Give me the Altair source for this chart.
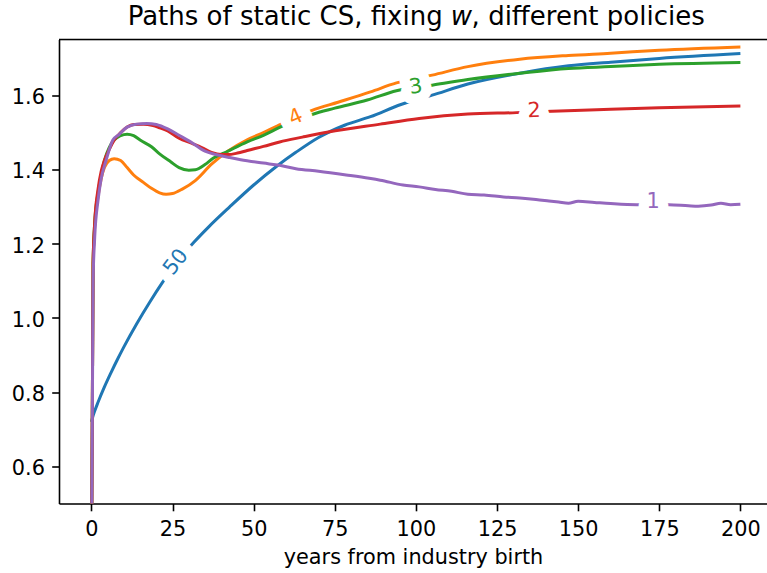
import altair as alt
import pandas as pd

FONT = "DejaVu Sans"

# ---- data ----
x_50 = [0, 0.5, 1, 2, 4, 6, 8, 10, 14, 18, 22, 25, 28, 31.5, 36, 42.6, 50, 57, 63, 70, 78, 86, 95.4, 105, 116, 132, 147, 160, 175, 200]
y_50 = [0.720, 0.736, 0.749, 0.772, 0.814, 0.852, 0.888, 0.922, 0.985, 1.043, 1.097, 1.135, 1.168, 1.203, 1.244, 1.299, 1.358, 1.408, 1.446, 1.486, 1.519, 1.542, 1.575, 1.600, 1.630, 1.659, 1.679, 1.689, 1.699, 1.712]

x_4 = [0, 0.5, 1, 2, 3, 4, 5.5, 7, 9, 11, 13, 16, 18.5, 21, 23, 25, 28, 32, 37, 42, 48, 53, 58.5, 62, 68, 76, 86, 94, 105, 116, 132, 147, 160, 175, 200]
y_4 = [0.30, 1.146, 1.246, 1.325, 1.375, 1.405, 1.424, 1.429, 1.424, 1.405, 1.385, 1.365, 1.349, 1.337, 1.333, 1.335, 1.347, 1.370, 1.414, 1.449, 1.480, 1.499, 1.522, 1.534, 1.559, 1.581, 1.609, 1.633, 1.654, 1.677, 1.697, 1.707, 1.713, 1.721, 1.730]

x_3 = [0, 0.5, 1, 2, 3, 4, 5.5, 7, 9, 11, 13, 15, 18.5, 21, 24.5, 27, 30, 32, 35, 37.5, 42, 48, 53, 58.5, 63, 68, 75, 85, 94, 105, 116, 132, 147, 160, 175, 200]
y_3 = [0.30, 1.146, 1.256, 1.335, 1.385, 1.424, 1.459, 1.479, 1.491, 1.495, 1.491, 1.479, 1.461, 1.442, 1.420, 1.405, 1.398, 1.399, 1.413, 1.430, 1.449, 1.474, 1.492, 1.515, 1.531, 1.548, 1.565, 1.587, 1.612, 1.627, 1.642, 1.659, 1.672, 1.677, 1.683, 1.688]

x_2 = [0, 0.5, 1, 2, 3, 4, 5.5, 7, 9, 11, 13, 16, 19, 21, 23.5, 27, 31, 34, 37, 40, 42, 45, 48, 53, 58, 65, 73, 89, 101, 116, 131, 142, 160, 175, 200]
y_2 = [0.30, 1.146, 1.256, 1.345, 1.395, 1.424, 1.454, 1.479, 1.499, 1.514, 1.521, 1.522, 1.518, 1.512, 1.504, 1.484, 1.470, 1.459, 1.446, 1.440, 1.440, 1.444, 1.451, 1.462, 1.474, 1.487, 1.501, 1.522, 1.537, 1.549, 1.553, 1.557, 1.562, 1.566, 1.571]

x_1 = [0, 0.5, 1, 2, 3, 4.5, 6.6, 8.5, 11, 14, 17, 20, 23.5, 27, 31, 35, 39, 42.6, 46, 53, 58, 63, 70, 78.5, 85.6, 89, 96, 101, 106, 111, 116, 121, 127, 132, 137, 141, 144, 147, 150, 155, 160, 168, 178, 184, 187, 191, 194, 197, 200]
y_1 = [0.30, 1.097, 1.216, 1.315, 1.375, 1.424, 1.479, 1.494, 1.514, 1.522, 1.524, 1.521, 1.509, 1.492, 1.472, 1.449, 1.439, 1.432, 1.426, 1.417, 1.411, 1.402, 1.395, 1.385, 1.376, 1.371, 1.358, 1.353, 1.346, 1.341, 1.333, 1.331, 1.326, 1.323, 1.319, 1.315, 1.312, 1.309, 1.314, 1.311, 1.308, 1.305, 1.305, 1.302, 1.301, 1.304, 1.309, 1.305, 1.306]

series_names = ["50", "4", "3", "2", "1"]
series_colors = ["#1f77b4", "#ff7f0e", "#2ca02c", "#d62728", "#9467bd"]
series_x = [x_50, x_4, x_3, x_2, x_1]
series_y = [y_50, y_4, y_3, y_2, y_1]

label_text = ["50", "4", "3", "2", "1"]
label_x = [26.1, 63.0, 100.0, 136.4, 173.1]
label_y = [1.150, 1.540, 1.622, 1.557, 1.311]
label_angle = [308, 336, 351, 358, 0]

x_ticks = [0, 25, 50, 75, 100, 125, 150, 175, 200]
y_ticks = [0.6, 0.8, 1.0, 1.2, 1.4, 1.6]

title_left = "Paths of static CS, fixing"
title_var = "w"
title_right = ", different policies"
x_title = "years from industry birth"

# ---- layout ----
W, H = 708, 464
xscale = alt.Scale(domain=[-10, 208.2], nice=False, zero=False)
yscale = alt.Scale(domain=[0.5, 1.75], nice=False, zero=False)

xaxis = alt.Axis(values=x_ticks, format="d", title=x_title, grid=False,
                 domainColor="black", domainWidth=1.6, tickColor="black", tickWidth=1.6,
                 tickSize=7.3, labelFont=FONT, labelFontSize=20.8, labelColor="black",
                 labelPadding=25, labelBaseline="alphabetic", labelFlush=False, labelOverlap=False,
                 titleFont=FONT, titleFontSize=20.8, titleColor="black", titleFontWeight="normal",
                 titleY=60, titleBaseline="alphabetic")
yaxis = alt.Axis(values=y_ticks, format=".1f", title=None, grid=False,
                 domainColor="black", domainWidth=1.6, tickColor="black", tickWidth=1.6,
                 tickSize=7.3, labelFont=FONT, labelFontSize=20.8, labelColor="black",
                 labelPadding=7.3, labelBaseline="middle", labelOffset=2.5,
                 labelFlush=False, labelOverlap=False)

X = alt.X("x:Q", scale=xscale, axis=xaxis)
Y = alt.Y("y:Q", scale=yscale, axis=yaxis)

layers = []
for name, col, xs, ys in zip(series_names, series_colors, series_x, series_y):
    df = pd.DataFrame({"x": xs, "y": ys, "s": name})
    layers.append(alt.Chart(df).mark_line(color=col, strokeWidth=3, clip=True,
                                          interpolate="monotone").encode(x=X, y=Y))

lab = pd.DataFrame({"x": label_x, "y": label_y, "text": label_text, "angle": label_angle})
layers.append(alt.Chart(lab).mark_text(font=FONT, fontSize=20.8, fill="white", stroke="white",
                                       strokeWidth=21, strokeJoin="round", align="center",
                                       baseline="middle").encode(
    x=X, y=Y, text="text:N", angle=alt.Angle("angle:Q", scale=None)))
layers.append(alt.Chart(lab).mark_text(font=FONT, fontSize=20.8, align="center",
                                       baseline="middle").encode(
    x=X, y=Y, text="text:N", angle=alt.Angle("angle:Q", scale=None),
    color=alt.Color("text:N", scale=alt.Scale(domain=label_text, range=series_colors), legend=None)))

# top spine
one = pd.DataFrame({"k": [0]})
layers.append(alt.Chart(one).mark_rule(color="black", strokeWidth=1.6).encode(
    x=alt.value(0), x2=alt.value(W), y=alt.value(0)))

# title pieces (w in italic)
layers.append(alt.Chart(one).mark_text(text=title_left, font=FONT, fontSize=26, color="black",
                                       align="right", baseline="alphabetic").encode(
    x=alt.value(383.7), y=alt.value(-14.5)))
layers.append(alt.Chart(one).mark_text(text=title_var, font=FONT, fontSize=26, fontStyle="italic",
                                       color="black", align="left", baseline="alphabetic").encode(
    x=alt.value(391.8), y=alt.value(-14.5)))
layers.append(alt.Chart(one).mark_text(text=title_right, font=FONT, fontSize=26, color="black",
                                       align="left", baseline="alphabetic").encode(
    x=alt.value(412.6), y=alt.value(-14.5)))

chart = alt.layer(*layers).properties(
    width=W, height=H,
    autosize=alt.AutoSizeParams(type="none"),
    padding={"left": 59, "top": 39.5, "right": 0, "bottom": 69.5},
).configure_view(stroke=None).configure(background="white")

chart.save("out.html", embed_options={"renderer": "svg", "actions": False})
